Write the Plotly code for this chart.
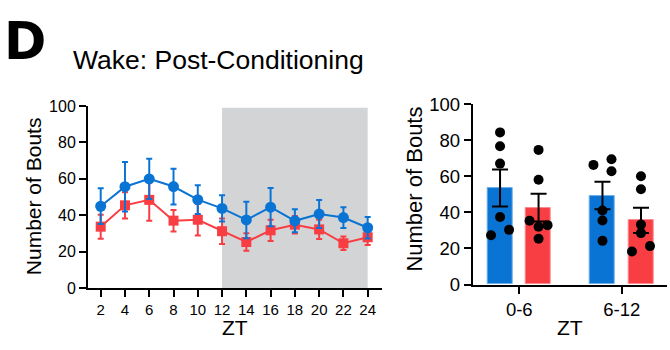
import plotly.graph_objects as go

# ---------------- data ----------------
zt = [2, 4, 6, 8, 10, 12, 14, 16, 18, 20, 22, 24]
blue_mean = [45, 55.7, 60, 55.8, 48.6, 43.8, 37.5, 44.5, 37, 40.7, 38.8, 33.2]
blue_sem = [9.8, 13.6, 11, 9.8, 7.9, 7.2, 10, 10.5, 6.3, 7.7, 5.7, 5.9]
red_mean = [33.8, 45.5, 48.5, 37.1, 37.6, 31.3, 25.4, 31.8, 34.9, 32.3, 24.7, 28]
red_sem = [6.6, 7.2, 11.5, 5.9, 8.6, 7.0, 4.8, 5.8, 4.8, 5.3, 3.7, 4.3]

bins = ["0-6", "6-12"]
blue_bar = [53.5, 49.3]
blue_bar_sem = [10.3, 7.6]
red_bar = [42.6, 35.6]
red_bar_sem = [7.7, 7.0]
blue_pts = [[84.3, 76.6, 67, 37.4, 27.3, 30.3], [66.3, 69.4, 62.8, 41, 35.5, 24.2]]
red_pts = [[74.6, 58.1, 35.3, 32, 32.9, 25.4], [60, 52.8, 33.2, 28.5, 18.3, 21.3]]
blue_jit = [[0, 0, 0, 0, -1, 1], [-1, 1, 1, 0, 0, 0]]
red_jit = [[0, 0, -1, 0, 1, 0], [0, 0, 0, 0, -1, 1]]

yticks = [0, 20, 40, 60, 80, 100]

# ---------------- style ----------------
BLUE = "#0a74d4"
RED = "#f83d43"
GREY = "#d3d4d6"
FONT = "Liberation Sans, Arial, sans-serif"
W, H = 670, 350
BAR_OFF = 0.188
BAR_W = 0.245
JIT = 0.088

fig = go.Figure()

fig.add_shape(type="rect", xref="x", yref="y", x0=12, x1=24, y0=0, y1=99,
              fillcolor=GREY, line_width=0, layer="below")

fig.add_trace(go.Scatter(
    x=zt, y=red_mean, mode="lines+markers", xaxis="x", yaxis="y",
    line=dict(color=RED, width=2),
    marker=dict(symbol="square", size=10, color=RED),
    error_y=dict(type="data", array=red_sem, color=RED, thickness=2, width=3),
    cliponaxis=False, showlegend=False))
fig.add_trace(go.Scatter(
    x=zt, y=blue_mean, mode="lines+markers", xaxis="x", yaxis="y",
    line=dict(color=BLUE, width=2),
    marker=dict(symbol="circle", size=11, color=BLUE),
    error_y=dict(type="data", array=blue_sem, color=BLUE, thickness=2, width=3),
    cliponaxis=False, showlegend=False))

cat_pos = list(range(len(bins)))
fig.add_trace(go.Bar(
    x=[p - BAR_OFF for p in cat_pos], y=blue_bar, width=BAR_W, xaxis="x2", yaxis="y2",
    marker=dict(color=BLUE, line=dict(color="#6aaeea", width=1)),
    error_y=dict(type="data", array=blue_bar_sem, color="black", thickness=2, width=8),
    showlegend=False))
fig.add_trace(go.Bar(
    x=[p + BAR_OFF for p in cat_pos], y=red_bar, width=BAR_W, xaxis="x2", yaxis="y2",
    marker=dict(color=RED, line=dict(color="#fb8a8e", width=1)),
    error_y=dict(type="data", array=red_bar_sem, color="black", thickness=2, width=8),
    showlegend=False))

px, py = [], []
for i, p in enumerate(cat_pos):
    for v, j in zip(blue_pts[i], blue_jit[i]):
        px.append(p - BAR_OFF + j * JIT); py.append(v)
    for v, j in zip(red_pts[i], red_jit[i]):
        px.append(p + BAR_OFF + j * JIT); py.append(v)
fig.add_trace(go.Scatter(x=px, y=py, mode="markers", xaxis="x2", yaxis="y2",
                         marker=dict(color="black", size=10),
                         cliponaxis=False, showlegend=False))

def axis(size, **kw):
    d = dict(showgrid=False, zeroline=False, showline=True, linecolor="black",
             linewidth=2, ticks="outside", ticklen=7, tickwidth=2, tickcolor="black",
             tickfont=dict(family=FONT, size=size, color="black"))
    d.update(kw)
    return d

fig.update_layout(
    width=W, height=H, margin=dict(l=0, r=0, t=0, b=0),
    paper_bgcolor="white", plot_bgcolor="rgba(0,0,0,0)",
    bargap=0,
    xaxis=axis(15, domain=[88 / W, 382 / W], range=[0.9535, 25.18], tickvals=zt,
               anchor="y"),
    yaxis=axis(16, domain=[1 - 295 / H, 1 - 101 / H], range=[0, 100], tickvals=yticks,
               anchor="x"),
    xaxis2=axis(18.5, domain=[472.7 / W, 667 / W], range=[-0.455, 1.442], tickvals=cat_pos,
                ticktext=bins, anchor="y2"),
    yaxis2=axis(18.5, domain=[1 - 291 / H, 1 - 99 / H], range=[0, 100], tickvals=yticks,
                anchor="x2"),
)

def ann(text, x, y, size, bold=False, angle=0, xanchor="center", yanchor="middle",
        family=FONT):
    fig.add_annotation(text=f"<b>{text}</b>" if bold else text, xref="paper", yref="paper",
                       x=x / W, y=1 - y / H, showarrow=False, textangle=angle,
                       xanchor=xanchor, yanchor=yanchor, borderpad=0,
                       font=dict(family=family, size=size, color="black"))

# all text boxes kept inside the page
ann("D", 3, 0.5, 51, bold=True, xanchor="left", yanchor="top", family="DejaVu Sans, sans-serif")
ann("Wake: Post-Conditioning", 72, 52, 26.5, xanchor="left")
ann("Number of Bouts", 33, 197, 21, angle=-90)
ann("Number of Bouts", 415, 190, 22, angle=-90)
ann("ZT", 235, 349.5, 21, yanchor="bottom")
ann("ZT", 570, 349.5, 21, yanchor="bottom")

fig.write_html("out.html")
